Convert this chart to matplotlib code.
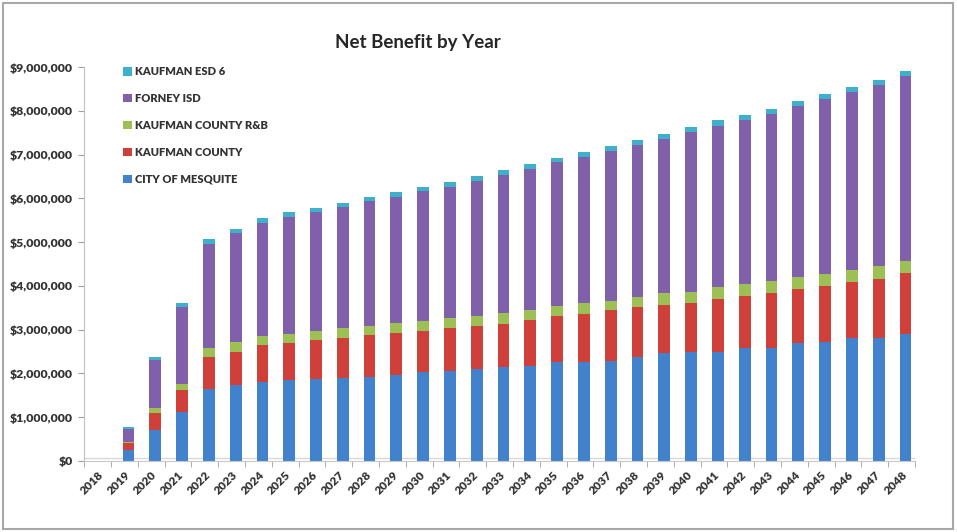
import numpy as np
import matplotlib.pyplot as plt
from matplotlib.patches import Rectangle
from matplotlib.ticker import FuncFormatter

# values in $ millions
years = [str(y) for y in range(2018, 2049)]
mesquite = [0.005, 0.25, 0.71, 1.12, 1.64, 1.73, 1.80, 1.85, 1.87, 1.90, 1.92, 1.96, 2.03, 2.06, 2.10, 2.15,
            2.17, 2.26, 2.26, 2.28, 2.37, 2.46, 2.48, 2.50, 2.59, 2.59, 2.69, 2.72, 2.80, 2.80, 2.90]
county = [0.0, 0.15, 0.39, 0.50, 0.74, 0.77, 0.84, 0.84, 0.89, 0.91, 0.95, 0.96, 0.93, 0.98, 0.98, 0.98,
          1.06, 1.05, 1.10, 1.16, 1.14, 1.11, 1.13, 1.20, 1.18, 1.25, 1.23, 1.27, 1.28, 1.36, 1.39]
county_rb = [0.0, 0.04, 0.11, 0.14, 0.19, 0.21, 0.21, 0.22, 0.22, 0.22, 0.21, 0.23, 0.24, 0.22, 0.24, 0.26,
             0.22, 0.22, 0.24, 0.21, 0.23, 0.26, 0.25, 0.27, 0.28, 0.28, 0.28, 0.29, 0.28, 0.30, 0.27]
forney = [0.0, 0.30, 1.09, 1.76, 2.39, 2.50, 2.59, 2.67, 2.71, 2.77, 2.85, 2.89, 2.96, 3.01, 3.07, 3.14,
          3.22, 3.29, 3.35, 3.43, 3.48, 3.53, 3.65, 3.69, 3.74, 3.81, 3.91, 3.98, 4.07, 4.13, 4.24]
esd6 = [0.0, 0.04, 0.07, 0.08, 0.10, 0.10, 0.10, 0.10, 0.10, 0.10, 0.10, 0.10, 0.10, 0.11, 0.11, 0.11,
        0.11, 0.11, 0.11, 0.11, 0.11, 0.11, 0.11, 0.12, 0.12, 0.12, 0.12, 0.12, 0.12, 0.12, 0.12]

series = [
    ("CITY OF MESQUITE", mesquite, "#4282cc"),
    ("KAUFMAN COUNTY", county, "#cf403b"),
    ("KAUFMAN COUNTY R&B", county_rb, "#9cc054"),
    ("FORNEY ISD", forney, "#8060ab"),
    ("KAUFMAN ESD 6", esd6, "#3fb0cc"),
]

plt.rcParams['font.family'] = ['Lato', 'DejaVu Sans']

fig = plt.figure(figsize=(9.57, 5.32), dpi=100)
ax = fig.add_axes([0.088, 0.1335, 0.868, 0.7405])

x = np.arange(len(years))
bottom = np.zeros(len(years))
handles = []
for name, vals, col in series:
    v = np.array(vals) * 1e6
    b = ax.bar(x + 0.15, v, 0.44, bottom=bottom, color=col, label=name, edgecolor='none')
    handles.append(b)
    bottom += v

ax.set_xlim(-0.5, len(years) - 0.5)
ax.set_ylim(0, 9e6)
ax.set_yticks(np.arange(0, 9.1e6, 1e6))
ax.yaxis.set_major_formatter(FuncFormatter(lambda v, p: "${:,.0f}".format(v)))
ax.set_xticks(x)
ax.set_xticklabels(years, rotation=45, ha='right', rotation_mode='anchor')
ax.set_xticks(np.arange(-0.5, len(years), 1), minor=True)
ax.tick_params(axis='x', which='major', length=0, labelsize=8.5, pad=6)
ax.tick_params(axis='x', which='minor', length=4, color='#a0a0a0')
ax.tick_params(axis='y', length=4, color='#a0a0a0', labelsize=8.8, pad=4)
for lab in ax.get_xticklabels() + ax.get_yticklabels():
    lab.set_fontweight('heavy')
    lab.set_color('#333333')

for s in ['top', 'right']:
    ax.spines[s].set_visible(False)
ax.spines['left'].set_color('#c0c0c0')
ax.spines['bottom'].set_color('#c8c8c8')
ax.axhline(0.07e6, color='#d8d8d8', lw=1, zorder=0)

leg = ax.legend(handles[::-1], [s[0] for s in series][::-1], loc='upper left',
                bbox_to_anchor=(0.035, 1.027), frameon=False, handlelength=0.75,
                handleheight=0.75, handletextpad=0.3, labelspacing=1.42,
                prop={'size': 8, 'weight': 'heavy'})
for t in leg.get_texts():
    t.set_color('#333333')

fig.text(0.437, 0.92, "Net Benefit by Year", ha='center', va='center',
         fontsize=13.5, fontweight='bold', color='#262626')

fig.patches.append(Rectangle((0.003, 0.005), 0.993, 0.99, transform=fig.transFigure,
                             fill=False, edgecolor='#a8a8a8', lw=1.5))

fig.savefig("out.png", dpi=100)
